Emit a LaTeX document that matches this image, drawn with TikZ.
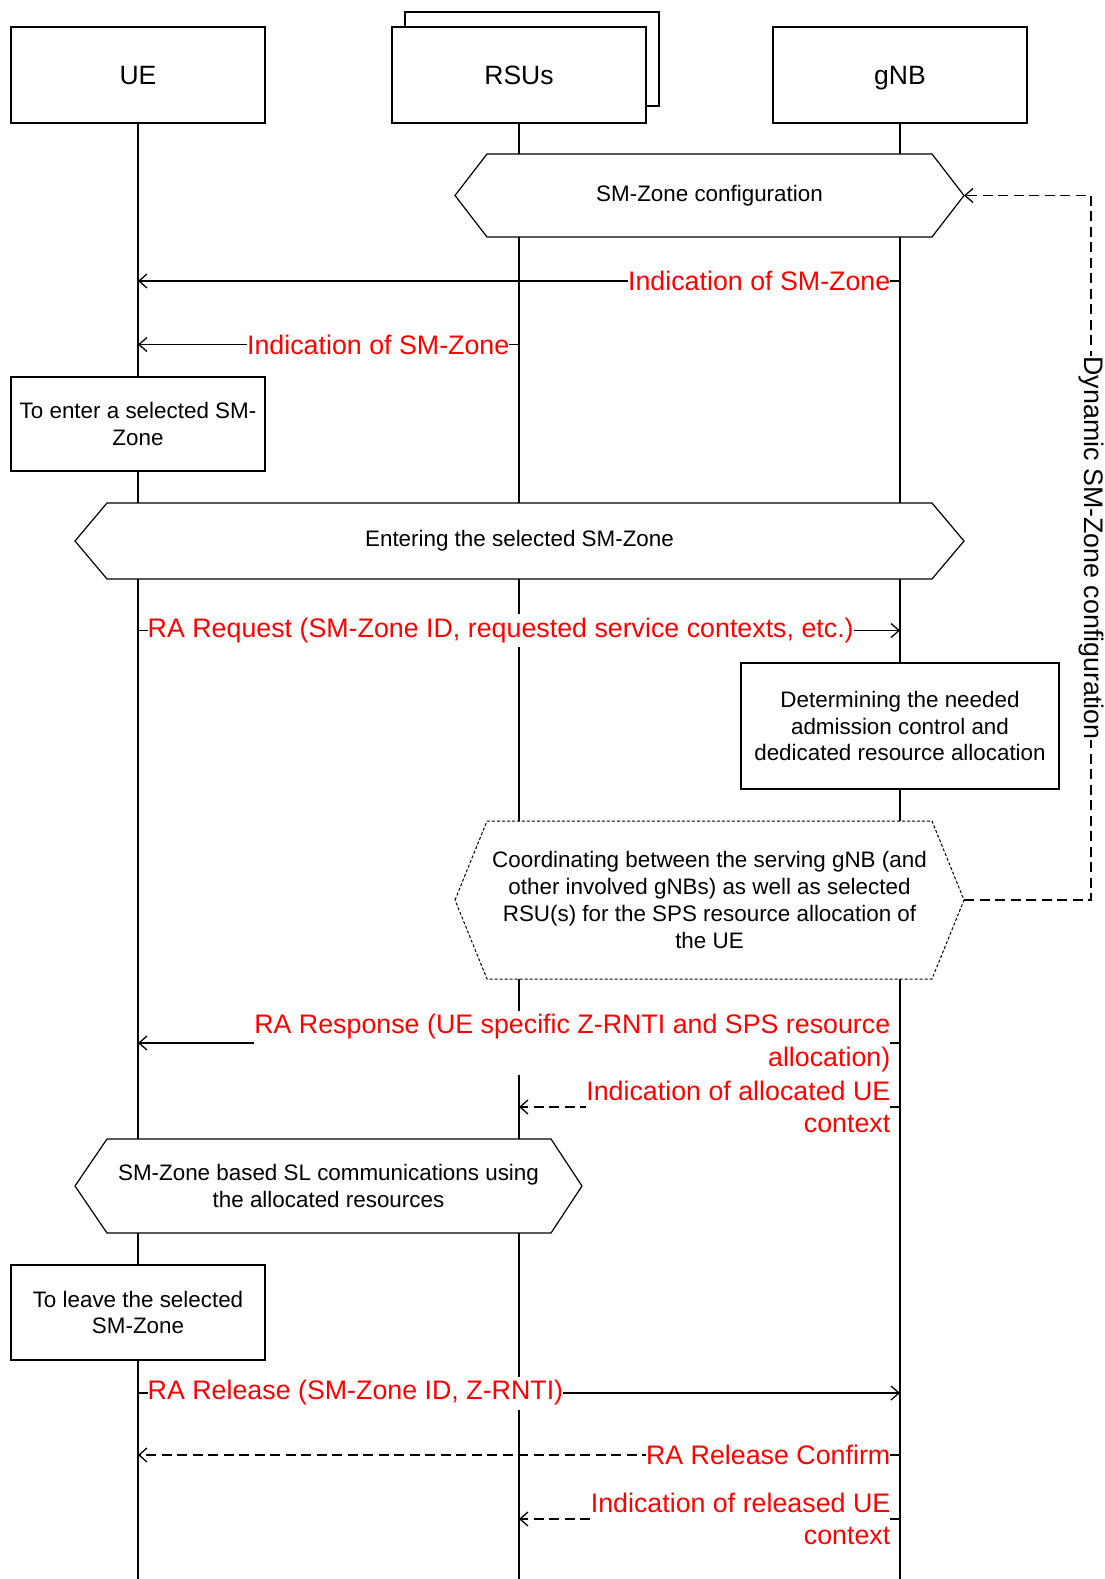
\documentclass[tikz,border=0pt]{standalone}
\usepackage{fontspec}
\setmainfont{Liberation Sans}
\usetikzlibrary{arrows.meta}
\newcommand\fhead{\fontsize{26.5}{31}\selectfont}
\newcommand\fblack{\fontsize{22.4}{26.7}\selectfont}
\newcommand\fred{\fontsize{26.8}{32.2}\selectfont}
\tikzset{
  lifebox/.style={draw, line width=1.3pt, fill=white, minimum width=254pt, minimum height=96pt, inner sep=0pt, font=\fhead, text height=19pt, text depth=0pt},
  actbox/.style={draw, line width=1.3pt, fill=white, align=center, inner sep=0pt, font=\fblack},
  hexline/.style={draw, line width=1.2pt, fill=white},
  hexdash/.style={draw, line width=1pt, fill=white, dash pattern=on 3pt off 2pt},
  hextext/.style={align=center, font=\fblack, inner sep=0pt},
  lifeline/.style={line width=1.3pt},
  msg/.style={line width=1.3pt, -{Straight Barb[length=8pt,width=14pt,line width=1.3pt]}},
  dmsg/.style={msg, line width=1.7pt, dash pattern=on 10pt off 5.5pt},
  msglbl/.style={text=red, fill=white, font=\fred, inner xsep=0pt, inner ysep=3pt, align=right},
}
\begin{document}
\begin{tikzpicture}[x=1pt,y=-1pt]
\useasboundingbox[fill=white] (0,0) rectangle (1105,1579);

% lifeline ends
\coordinate (ueEnd) at (138,1579);
\coordinate (rsuEnd) at (519,1579);
\coordinate (gnbEnd) at (900,1579);

% header boxes
\node[lifebox, minimum height=94pt] (rsuback) at (532,59) {};
\node[lifebox] (ue) at (138,75) {UE};
\node[lifebox] (rsu) at (519,75) {RSUs};
\node[lifebox] (gnb) at (900,75) {gNB};

% lifelines
\draw[lifeline] (ue.south) -- (ueEnd);
\draw[lifeline] (rsu.south) -- (rsuEnd);
\draw[lifeline] (gnb.south) -- (gnbEnd);

% hexagon 1 : SM-Zone configuration
\coordinate (h1w) at (455,195.5);
\coordinate (h1e) at (964,195.5);
\path[hexline] (h1w) -- (487,154) -- (932,154) -- (h1e) -- (932,237) -- (487,237) -- cycle;
\node[hextext] (h1t) at (709.5,195.5) {SM-Zone configuration};

% message 1
\coordinate (m1s) at (900,281);
\coordinate (m1e) at (138,281);
\draw[msg] (m1s) -- (m1e);
\node[msglbl, anchor=east] (l1) at (890.5,281) {Indication of SM-Zone};

% message 2
\coordinate (m2s) at (519,344.5);
\coordinate (m2e) at (138,344.5);
\draw[msg] (m2s) -- (m2e);
\node[msglbl, anchor=east] (l2) at (509.5,344.5) {Indication of SM-Zone};

% action box 1
\node[actbox, minimum width=254pt, minimum height=94pt] (b1) at (138,424) {To enter a selected SM-\\Zone};

% hexagon 2 : Entering
\path[hexline] (75,541) -- (107,503) -- (932,503) -- (964,541) -- (932,579) -- (107,579) -- cycle;
\node[hextext] (h2t) at (519.5,541) {Entering the selected SM-Zone};

% RA Request
\coordinate (m3s) at (138,630.5);
\coordinate (m3e) at (900,630.5);
\draw[msg] (m3s) -- (m3e);
\node[msglbl, anchor=west, inner ysep=4pt] (l3) at (147.5,630.5) {RA Request (SM-Zone ID, requested service contexts, etc.)};

% action box 2
\node[actbox, minimum width=318pt, minimum height=126pt] (b2) at (900,726) {Determining the needed\\admission control and\\dedicated resource allocation};

% hexagon 3 : Coordinating (dashed)
\coordinate (h3e) at (964,900);
\path[hexdash] (455,900) -- (487,821) -- (932,821) -- (h3e) -- (932,979) -- (487,979) -- cycle;
\node[hextext] (h3t) at (709.5,900) {Coordinating between the serving gNB (and\\other involved gNBs) as well as selected\\RSU(s) for the SPS resource allocation of\\the UE};

% dynamic configuration feedback
\coordinate (fb1) at (1091,900);
\coordinate (fb2) at (1091,195.5);
\draw[dmsg] (h3e) -- (fb1) -- (fb2) -- (h1e);
\node[fill=white, inner sep=1pt, rotate=-90, font=\fred] (fbl) at (1091,548) {Dynamic SM-Zone configuration};

% RA Response
\coordinate (m4s) at (900,1043);
\coordinate (m4e) at (138,1043);
\draw[msg] (m4s) -- (m4e);
\node[msglbl, anchor=east] (l4) at (890.5,1043) {RA Response (UE specific Z-RNTI and SPS resource\\allocation)};

% Indication of allocated UE context
\coordinate (m5s) at (900,1107);
\coordinate (m5e) at (519,1107);
\draw[dmsg] (m5s) -- (m5e);
\node[msglbl, anchor=east] (l5) at (890.5,1107) {Indication of allocated UE\\context};

% hexagon 4 : SM-Zone based SL
\path[hexline] (75,1186) -- (107,1139) -- (551,1139) -- (582,1186) -- (551,1233) -- (107,1233) -- cycle;
\node[hextext] (h4t) at (328.5,1186) {SM-Zone based SL communications using\\the allocated resources};

% action box 3
\node[actbox, minimum width=254pt, minimum height=95pt] (b3) at (138,1312.5) {To leave the selected\\SM-Zone};

% RA Release
\coordinate (m6s) at (138,1393);
\coordinate (m6e) at (900,1393);
\draw[msg] (m6s) -- (m6e);
\node[msglbl, anchor=west, inner ysep=4pt] (l6) at (147.5,1393) {RA Release (SM-Zone ID, Z-RNTI)};

% RA Release Confirm
\coordinate (m7s) at (900,1455);
\coordinate (m7e) at (138,1455);
\draw[dmsg] (m7s) -- (m7e);
\node[msglbl, anchor=east] (l7) at (890.5,1455) {RA Release Confirm};

% Indication of released UE context
\coordinate (m8s) at (900,1519);
\coordinate (m8e) at (519,1519);
\draw[dmsg] (m8s) -- (m8e);
\node[msglbl, anchor=east] (l8) at (890.5,1519) {Indication of released UE\\context};
\end{tikzpicture}
\end{document}
